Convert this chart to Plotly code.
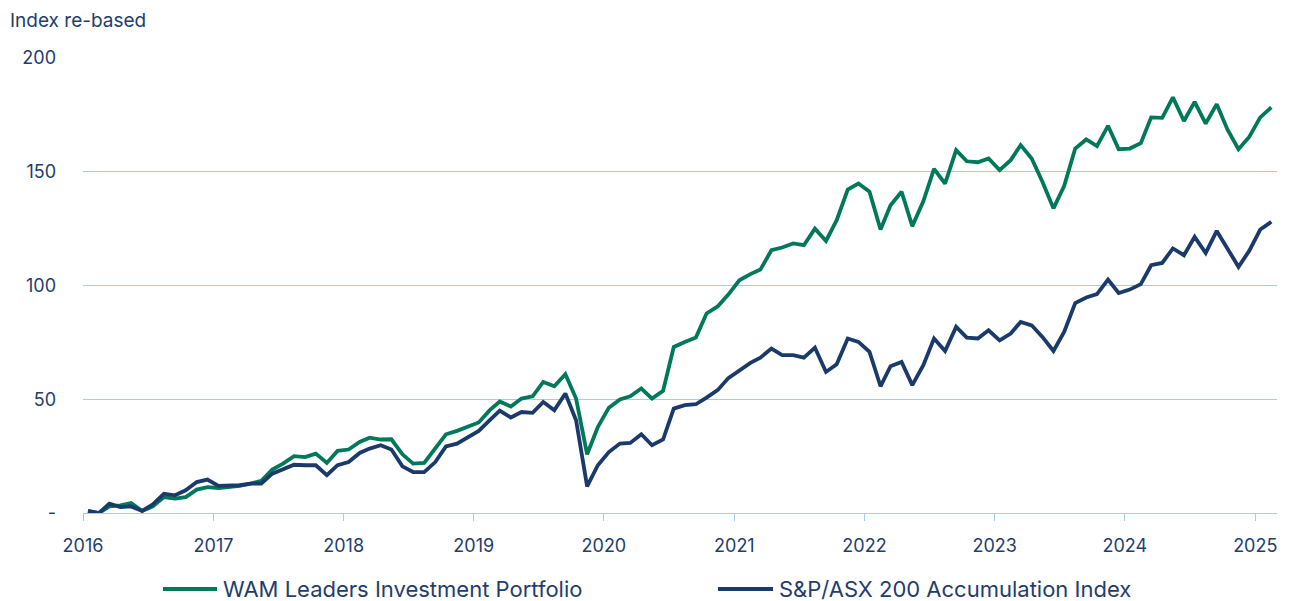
import pandas as pd
import plotly.graph_objects as go

# Monthly observations, Jan 2016 .. Feb 2025
start_month = "2016-01-15"
n_months = 110

wam_leaders = [
    0.8, 0.0, 2.9, 3.4, 4.4, 0.9, 2.9, 7.0, 6.3, 7.0,
    10.3, 11.4, 11.0, 11.4, 11.9, 12.9, 14.1, 19.1, 21.7, 25.0,
    24.6, 26.1, 22.0, 27.3, 27.9, 31.2, 33.1, 32.3, 32.4, 25.8,
    21.7, 22.0, 28.3, 34.6, 36.1, 38.1, 39.8, 45.2, 49.0, 46.8,
    50.3, 51.3, 57.6, 55.7, 61.0, 50.3, 25.8, 37.8, 46.3, 49.9,
    51.3, 54.7, 50.3, 53.7, 73.0, 75.2, 77.1, 87.7, 90.8, 96.0,
    102.3, 105.0, 107.0, 115.5, 116.7, 118.5, 117.7, 125.0, 119.6, 128.7,
    142.2, 144.8, 141.2, 124.6, 135.3, 141.2, 126.1, 137.0, 151.3, 144.8,
    159.5, 154.6, 154.2, 155.8, 150.7, 155.1, 161.7, 155.8, 145.6, 133.9,
    143.7, 160.2, 164.2, 161.3, 170.2, 159.9, 160.2, 162.6, 173.9, 173.7,
    182.7, 172.3, 180.7, 171.2, 179.7, 168.6, 159.9, 165.3, 173.9, 178.3,
]

asx200_accum = [
    0.9, 0.0, 4.1, 2.6, 2.9, 0.9, 3.8, 8.5, 7.8, 10.0,
    13.6, 14.7, 11.9, 11.9, 12.2, 12.9, 12.9, 17.3, 19.1, 21.2,
    21.0, 21.0, 16.6, 21.0, 22.4, 26.4, 28.3, 29.8, 27.9, 20.5,
    18.0, 18.0, 22.4, 29.3, 30.5, 33.1, 36.1, 40.8, 45.0, 42.0,
    44.4, 44.0, 48.8, 45.2, 52.5, 40.8, 11.7, 21.0, 26.8, 30.5,
    30.8, 34.6, 29.8, 32.3, 45.9, 47.4, 47.8, 50.7, 54.0, 59.3,
    62.8, 66.0, 68.3, 72.3, 69.4, 69.4, 68.3, 72.7, 62.0, 65.4,
    76.7, 75.2, 70.8, 55.7, 64.5, 66.4, 56.2, 65.0, 76.7, 71.2,
    81.8, 77.1, 76.7, 80.3, 75.9, 78.9, 84.0, 82.5, 77.4, 71.2,
    79.6, 92.3, 94.7, 96.2, 102.6, 96.7, 98.2, 100.6, 108.9, 109.9,
    116.3, 113.3, 121.4, 114.3, 124.0, 116.3, 108.2, 115.2, 124.6, 128.0,
]

series_names = ["WAM Leaders Investment Portfolio", "S&P/ASX 200 Accumulation Index"]
x_tick_years = ["2016", "2017", "2018", "2019", "2020", "2021", "2022", "2023", "2024", "2025"]
y_tick_values = [0, 50, 100, 150, 200]
y_tick_labels = ["-", "50", "100", "150", "200"]
y_axis_title = "Index re-based"

dates = pd.date_range(start_month, periods=n_months, freq=pd.DateOffset(months=1))

GREEN = "#00785a"
NAVY = "#1b3a6c"
TEXT = "#1f3d6e"
GRID = "#a9cbe9"
FONT = "Inter, Open Sans, sans-serif"

fig = go.Figure()
fig.add_trace(go.Scatter(x=dates, y=wam_leaders, mode="lines", name=series_names[0],
                         line=dict(color=GREEN, width=3.8), showlegend=False))
fig.add_trace(go.Scatter(x=dates, y=asx200_accum, mode="lines", name=series_names[1],
                         line=dict(color=NAVY, width=3.8), showlegend=False))

L, R, T, B = 83, 22, 58, 88
W, H = 1299, 601
pw, ph = W - L - R, H - T - B


def px_x(p):
    return (p - L) / pw


def px_y(p):
    return (H - B - p) / ph


fig.update_layout(
    width=W, height=H,
    margin=dict(l=L, r=R, t=T, b=B, pad=0),
    plot_bgcolor="white", paper_bgcolor="white",
    font=dict(family=FONT, color=TEXT, size=18),
    xaxis=dict(
        type="date",
        range=["2016-01-01", "2025-03-03"],
        tickvals=[f"{y}-01-01" for y in x_tick_years],
        ticktext=x_tick_years,
        showgrid=False, zeroline=False,
        showline=True, linecolor=GRID, linewidth=1.3,
        ticks="outside", ticklen=7, tickcolor=GRID, tickwidth=1.3,
        ticklabelstandoff=9,
        tickfont=dict(size=18, color=TEXT, family=FONT),
    ),
    yaxis=dict(
        range=[0, 200],
        tickvals=y_tick_values,
        ticktext=y_tick_labels,
        showgrid=True, gridcolor=GRID, gridwidth=1.2,
        zeroline=False, showline=False,
        ticks="", ticklabelstandoff=26,
        tickfont=dict(size=18, color=TEXT, family=FONT),
    ),
)

annotations = [
    dict(text=y_axis_title, xref="paper", yref="paper", x=px_x(8), y=px_y(20),
         xanchor="left", yanchor="middle", showarrow=False,
         font=dict(size=19, color=TEXT, family=FONT)),
]
legend_items = [
    (series_names[0], GREEN, 163, 217),
    (series_names[1], NAVY, 718, 773),
]
shapes = []
for name, col, x0, x1 in legend_items:
    shapes.append(dict(type="line", xref="paper", yref="paper",
                       x0=px_x(x0), x1=px_x(x1), y0=px_y(589), y1=px_y(589),
                       line=dict(color=col, width=4)))
    annotations.append(dict(text=name, xref="paper", yref="paper",
                            x=px_x(x1 + 4), y=px_y(589), xanchor="left", yanchor="middle",
                            showarrow=False, font=dict(size=22, color=TEXT, family=FONT)))

fig.update_layout(annotations=annotations, shapes=shapes)

fig.write_html("out.html", config={"displayModeBar": False},
               post_script="document.body.style.margin='0';document.body.style.overflow='hidden';")
